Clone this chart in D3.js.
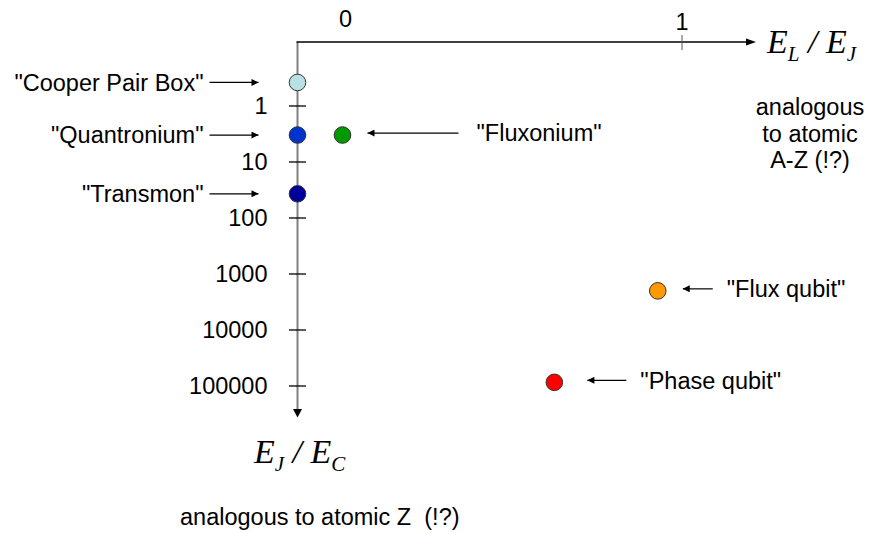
<!DOCTYPE html>
<html>
<head>
<meta charset="utf-8">
<script src="https://cdn.jsdelivr.net/npm/d3@7"></script>
<style>
  html, body { margin: 0; padding: 0; background: #fff; }
  svg { display: block; }
  text { font-family: "Liberation Sans", Arial, sans-serif; fill: #000; white-space: pre; }
  .math { font-family: "Liberation Serif", "Times New Roman", serif; font-style: italic; }
</style>
</head>
<body>
<svg id="chart" width="870" height="533"></svg>
<script>
// ---- data ----
const qubitNames = ["Cooper Pair Box", "Quantronium", "Transmon", "Fluxonium", "Flux qubit", "Phase qubit"];
const elOverEj   = [0, 0, 0, 0.117, 0.937, 0.668];          // E_L / E_J
const ejOverEc   = [0.38, 3.3, 37, 3.3, 2000, 86000];       // E_J / E_C
const pointColors = ["#b9e0e2", "#0033cc", "#000099", "#009900", "#ff9900", "#ff0000"];
const yTickValues = [1, 10, 100, 1000, 10000, 100000];
const yTickLabels = ["1", "10", "100", "1000", "10000", "100000"];
const xTickValues = [0, 1];
const xTickLabels = ["0", "1"];

// ---- layout (positions only) ----
const labelSide = ["left", "left", "left", "right", "right", "right"];
const rightArrowGap = {"Fluxonium": 25, "Flux qubit": 25, "Phase qubit": 33};
const rightArrowLen = {"Fluxonium": 91, "Flux qubit": 30, "Phase qubit": 39};
const rightTextGap  = {"Fluxonium": 18, "Flux qubit": 14, "Phase qubit": 14};
const xTickLabelDx = [48, 0];
const xTickLabelY  = [27, 30];

const svg = d3.select("#chart");
const FS = 23.5;

const x = d3.scaleLinear().domain([0, 1]).range([297.5, 682]);
const y = d3.scaleLog().domain([1, 100000]).range([106, 386]);
const axisY = 42;

// markers
const defs = svg.append("defs");
defs.append("marker").attr("id", "arr").attr("markerUnits", "userSpaceOnUse")
  .attr("viewBox", "0 0 10 10").attr("refX", 10).attr("refY", 5)
  .attr("markerWidth", 9).attr("markerHeight", 7).attr("orient", "auto")
  .append("path").attr("d", "M0,0 L10,5 L0,10 Z").attr("fill", "#000");

// vertical axis (gray) with arrow
svg.append("line").attr("x1", x(0)).attr("x2", x(0)).attr("y1", axisY).attr("y2", 410)
  .attr("stroke", "#808080").attr("stroke-width", 2);
svg.append("path")
  .attr("d", `M${x(0)-4.5},409 L${x(0)+4.5},409 L${x(0)},417.5 Z`).attr("fill", "#000");

// horizontal axis (black) with arrow
svg.append("line").attr("x1", x(0) - 1).attr("x2", 748).attr("y1", axisY).attr("y2", axisY)
  .attr("stroke", "#000").attr("stroke-width", 1.3);
svg.append("path")
  .attr("d", `M746,${axisY-3.5} L756,${axisY} L746,${axisY+3.5} Z`).attr("fill", "#000");

// y ticks
const yT = svg.append("g");
yTickValues.forEach((v, i) => {
  yT.append("line").attr("x1", x(0) - 8.5).attr("x2", x(0) + 8.5)
    .attr("y1", y(v)).attr("y2", y(v)).attr("stroke", "#000").attr("stroke-width", 1.3);
  yT.append("text").attr("x", 267.5).attr("y", y(v)).attr("dy", "0.36em")
    .attr("text-anchor", "end").attr("font-size", FS).text(yTickLabels[i]);
});

// x ticks
xTickValues.forEach((v, i) => {
  if (v !== 0) {
    svg.append("line").attr("x1", x(v)).attr("x2", x(v)).attr("y1", 35).attr("y2", 50)
      .attr("stroke", "#555").attr("stroke-width", 1);
  }
  svg.append("text").attr("x", x(v) + xTickLabelDx[i]).attr("y", xTickLabelY[i])
    .attr("text-anchor", "middle").attr("font-size", FS).text(xTickLabels[i]);
});

// points + annotations
qubitNames.forEach((name, i) => {
  const cx = x(elOverEj[i]), cy = y(ejOverEc[i]);
  if (labelSide[i] === "left") {
    svg.append("line").attr("x1", x(0) - 88).attr("x2", x(0) - 39).attr("y1", cy).attr("y2", cy)
      .attr("stroke", "#000").attr("stroke-width", 1.2).attr("marker-end", "url(#arr)");
    svg.append("text").attr("x", x(0) - 94).attr("y", cy).attr("dy", "0.36em")
      .attr("text-anchor", "end").attr("font-size", FS).text(`"${name}"`);
  } else {
    const tip = cx + rightArrowGap[name], tail = tip + rightArrowLen[name];
    svg.append("line").attr("x1", tail).attr("x2", tip).attr("y1", cy - 2).attr("y2", cy - 2)
      .attr("stroke", "#000").attr("stroke-width", 1.2).attr("marker-end", "url(#arr)");
    svg.append("text").attr("x", tail + rightTextGap[name]).attr("y", cy - 2).attr("dy", "0.36em")
      .attr("text-anchor", "start").attr("font-size", FS).text(`"${name}"`);
  }
  svg.append("circle").attr("cx", cx).attr("cy", cy).attr("r", 8.3)
    .attr("fill", pointColors[i]).attr("stroke", "#333").attr("stroke-width", 1);
});

// axis titles
function mathLabel(xp, yp, a, b) {
  const t = svg.append("text").attr("class", "math").attr("x", xp).attr("y", yp).attr("font-size", 34);
  t.append("tspan").text("E");
  t.append("tspan").attr("font-size", 21).attr("dy", 8).text(a);
  t.append("tspan").attr("dy", -8).text(" / E");
  t.append("tspan").attr("font-size", 21).attr("dy", 8).text(b);
}
mathLabel(767, 53, "L", "J");
mathLabel(254, 463, "J", "C");

// descriptive texts
const rightNote = ["analogous", "to atomic", "A-Z (!?)"];
rightNote.forEach((s, i) => {
  svg.append("text").attr("x", 810).attr("y", 115 + i * 26.5).attr("text-anchor", "middle")
    .attr("font-size", FS).text(s);
});
svg.append("text").attr("x", 180).attr("y", 525).attr("font-size", FS)
  .text("analogous to atomic Z  (!?)");
</script>
</body>
</html>
